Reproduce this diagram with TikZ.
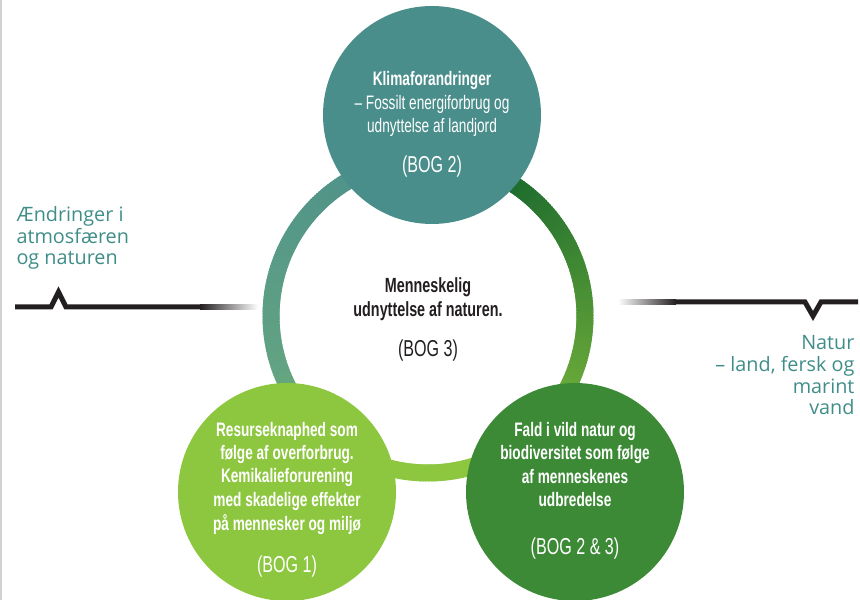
\documentclass[tikz,border=0pt]{standalone}
\usepackage{fontspec}
\setmainfont{Open Sans}
\newfontfamily\condfont[FakeStretch=0.7]{Liberation Sans}
\definecolor{klima}{HTML}{4A8E8B}
\definecolor{midt}{HTML}{62A383}
\definecolor{ressource}{HTML}{8DC63F}
\definecolor{natur}{HTML}{3C8A36}
\definecolor{mork}{HTML}{1B6A2E}
\definecolor{ink}{HTML}{231F20}
\definecolor{side}{HTML}{3F8D89}

\begin{document}
\begin{tikzpicture}[x=1pt,y=1pt,
  bubble/.style={circle,fill,inner sep=0pt,minimum size=218pt},
  intext/.style={font=\condfont\bfseries\fontsize{19.5}{23.5}\selectfont,align=center,anchor=base,text=white},
  bogtext/.style={font=\condfont\fontsize{23}{24}\selectfont,anchor=base,text=white},
  sidetext/.style={font=\fontsize{19.8}{21.7}\selectfont,text=side,anchor=base west,align=left}]
\useasboundingbox (0,0) rectangle (860,600);
\draw[gray!35,line width=2pt](1,0)--(1,600);

% ring
\begin{scope}[shift={(428,284)}]
\foreach \a in {90,...,199}
{\pgfmathtruncatemacro\p{(\a-90)/1.1}
\draw[line width=17pt,color=midt!\p!klima](\a:157)arc[start angle=\a,end angle=\a+1.6,radius=157pt];}
\foreach \a in {200,...,249}
{\pgfmathtruncatemacro\p{(\a-200)*2}
\draw[line width=17pt,color=ressource!\p!midt](\a:157)arc[start angle=\a,end angle=\a+1.6,radius=157pt];}
\foreach \a in {250,...,289}
\draw[line width=17pt,color=ressource](\a:157)arc[start angle=\a,end angle=\a+1.6,radius=157pt];
\foreach \a in {290,...,419}
{\pgfmathtruncatemacro\p{(\a-290)/1.3}
\draw[line width=17pt,color=mork!\p!ressource](\a:157)arc[start angle=\a,end angle=\a+1.6,radius=157pt];}
\foreach \a in {420,...,449}
{\pgfmathtruncatemacro\p{(\a-420)*3.3}
\draw[line width=17pt,color=klima!\p!mork](\a:157)arc[start angle=\a,end angle=\a+1.6,radius=157pt];}
\end{scope}

\node(c1)[bubble,fill=klima]at(432,485){};
\node(c2)[bubble,fill=ressource]at(287,108){};
\node(c3)[bubble,fill=natur]at(575,108){};

\node(t1)[intext]at(432,467){Klimaforandringer\\
  \mdseries – Fossilt energiforbrug og\\ \mdseries udnyttelse af landjord};
\node(b1)[bogtext]at(432,427){(BOG 2)};

\node(t0)[intext,text=ink,font=\condfont\bfseries\fontsize{20.5}{24}\selectfont]at(428,283){Menneskelig\\ udnyttelse af naturen.};
\node(b0)[bogtext,text=ink]at(428,243){(BOG 3)};

\node(t2)[intext]at(287,70){Resurseknaphed som\\ følge af overforbrug.\\ Kemikalieforurening\\ med skadelige effekter\\ på mennesker og miljø};
\node(b2)[bogtext]at(287,27){(BOG 1)};

\node(t3)[intext]at(575,93){Fald i vild natur og\\ biodiversitet som følge\\ af menneskenes\\ udbredelse};
\node(b3)[bogtext]at(575,45){(BOG 2 \& 3)};

% lines
\draw[line width=5pt,color=ink](15,293)--(51,293)--(58.5,308)--(66,293)--(200,293);
\shade[left color=ink,right color=white](200,290.5)rectangle(258,295.5);
\shade[left color=white,right color=ink](618,295.5)rectangle(676,300.5);
\draw[line width=5pt,color=ink](676,298)--(805,298)--(813,284)--(821,298)--(858,298);

\node(l)[sidetext]at(13,335){Ændringer i\\ atmosfæren\\ og naturen};
\node(r)[sidetext,anchor=base east,align=right]at(858,185){Natur\\ – land, fersk og\\ marint\\ vand};
\end{tikzpicture}
\end{document}
